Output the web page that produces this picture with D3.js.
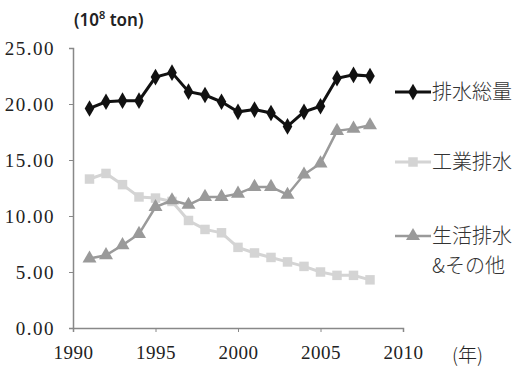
<!DOCTYPE html>
<html>
<head>
<meta charset="utf-8">
<script src="https://cdn.jsdelivr.net/npm/d3@7"></script>
<style>
  body { margin: 0; background: #fff; }
  svg { display: block; }
  .tick text { font-family: "Liberation Serif", "DejaVu Serif", "Times New Roman", serif; }
</style>
</head>
<body>
<div id="chart"></div>
<script>
const years = [1991, 1992, 1993, 1994, 1995, 1996, 1997, 1998, 1999, 2000,
               2001, 2002, 2003, 2004, 2005, 2006, 2007, 2008];
const totalDrain = [19.6, 20.2, 20.3, 20.3, 22.4, 22.8, 21.1, 20.8, 20.2, 19.3,
                    19.5, 19.2, 18.0, 19.3, 19.8, 22.3, 22.6, 22.5];
const industrialDrain = [13.3, 13.8, 12.8, 11.7, 11.6, 11.3, 9.6, 8.8, 8.5, 7.2,
                         6.7, 6.3, 5.9, 5.5, 5.0, 4.7, 4.7, 4.3];
const domesticDrain = [6.2, 6.5, 7.4, 8.4, 10.8, 11.4, 11.0, 11.7, 11.7, 12.0,
                       12.6, 12.6, 11.9, 13.7, 14.7, 17.6, 17.8, 18.1];
const yTicks = [0, 5, 10, 15, 20, 25];
const xTicks = [1990, 1995, 2000, 2005, 2010];

const width = 516, height = 368;
const margin = { left: 73, right: 113, top: 48, bottom: 40 };

const svg = d3.select("#chart").append("svg")
    .attr("width", width)
    .attr("height", height);

const x = d3.scaleLinear().domain([1990, 2010]).range([margin.left, width - margin.right]);
const y = d3.scaleLinear().domain([0, 25]).range([height - margin.bottom, margin.top]);

// axes
const yAxis = svg.append("g")
    .attr("transform", `translate(${margin.left},0)`)
    .call(d3.axisLeft(y).tickValues(yTicks).tickFormat(d3.format(".2f")).tickSize(4).tickPadding(14));
const xAxis = svg.append("g")
    .attr("transform", `translate(0,${y(0)})`)
    .call(d3.axisBottom(x).tickValues(xTicks).tickFormat(d3.format("d")).tickSize(4).tickPadding(14));

[yAxis, xAxis].forEach(g => {
    g.attr("font-family", "Liberation Serif").attr("font-size", 19);
    g.select(".domain").attr("stroke", "#888").attr("stroke-width", 1.5);
    g.selectAll(".tick line").attr("stroke", "#888");
    g.selectAll("text").attr("fill", "#222");
});
yAxis.selectAll("text").attr("dy", "0.35em").style("letter-spacing", "1.5px");
xAxis.selectAll("text").style("letter-spacing", "0.5px");

// series
const series = [
    { name: "total", values: totalDrain, color: "#111", width: 3, marker: d3.symbolDiamond, size: 80 },
    { name: "industrial", values: industrialDrain, color: "#d4d4d4", width: 3, marker: d3.symbolSquare, size: 90 },
    { name: "domestic", values: domesticDrain, color: "#9a9a9a", width: 2.5, marker: d3.symbolTriangle, size: 85 }
];

const line = d3.line()
    .x((d, i) => x(years[i]))
    .y(d => y(d));

series.forEach(s => {
    svg.append("path")
        .datum(s.values)
        .attr("fill", "none")
        .attr("stroke", s.color)
        .attr("stroke-width", s.width)
        .attr("d", line);
    svg.selectAll(null)
        .data(s.values)
        .enter().append("path")
        .attr("d", d3.symbol().type(s.marker).size(s.size))
        .attr("transform", (d, i) => `translate(${x(years[i])},${y(d)})`)
        .attr("fill", s.color);
});

// legend
const legendItems = [
    { s: series[0], lines: ["排水総量"], y: 92 },
    { s: series[1], lines: ["工業排水"], y: 162 },
    { s: series[2], lines: ["生活排水", "&その他"], y: 236 }
];
const cjkFont = "'Noto Sans CJK JP', sans-serif";

legendItems.forEach(item => {
    const g = svg.append("g");
    g.append("line")
        .attr("x1", 395).attr("x2", 431)
        .attr("y1", item.y).attr("y2", item.y)
        .attr("stroke", item.s.color)
        .attr("stroke-width", item.s.width);
    g.append("path")
        .attr("d", d3.symbol().type(item.s.marker).size(item.s.size))
        .attr("transform", `translate(413,${item.y})`)
        .attr("fill", item.s.color);
    item.lines.forEach((t, i) => {
        g.append("text")
            .attr("x", 432)
            .attr("y", item.y + i * 30)
            .attr("dy", "0.35em")
            .attr("fill", "#333")
            .style("font-family", cjkFont)
            .style("font-size", "20px")
            .style("font-weight", "300")
            .text(t);
    });
});

// unit labels
const unit = svg.append("text")
    .attr("x", 74)
    .attr("y", 26)
    .attr("fill", "#222")
    .style("font-family", "'Noto Sans', sans-serif")
    .style("font-size", "17px")
    .style("font-weight", "600");
unit.append("tspan").text("(10");
unit.append("tspan").attr("dy", -7).style("font-size", "11px").text("8");
unit.append("tspan").attr("dy", 7).text(" ton)");

svg.append("text")
    .attr("x", 452)
    .attr("y", 355)
    .attr("dy", "0.35em")
    .attr("fill", "#222")
    .style("font-family", cjkFont)
    .style("font-size", "19px")
    .style("font-weight", "300")
    .text("(年)");
</script>
</body>
</html>
